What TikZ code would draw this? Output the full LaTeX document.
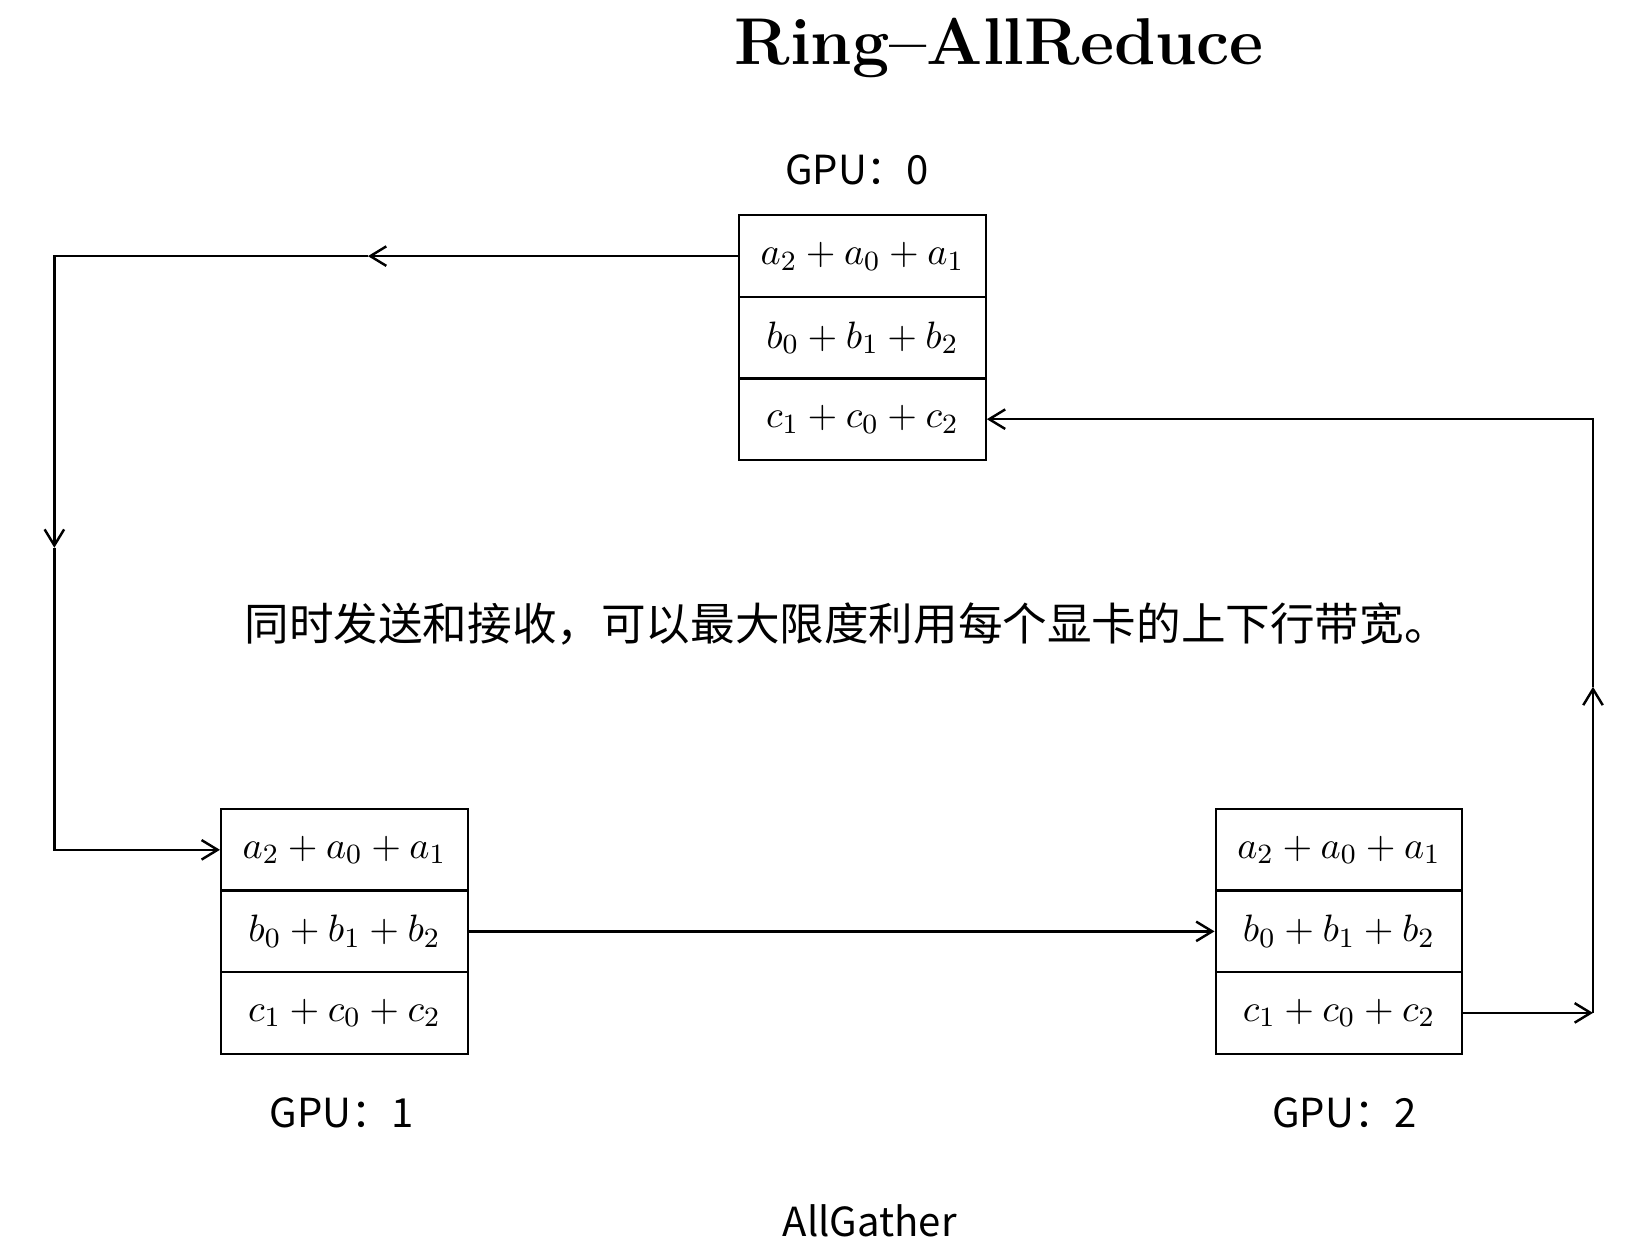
\documentclass[tikz,border=0pt]{standalone}
\usepackage{fontspec}
\newfontfamily\cjk{Noto Sans CJK SC}
\usetikzlibrary{arrows.meta}
\tikzset{
  cell/.style={draw, line width=0.65pt, minimum width=70.8pt, minimum height=23.4pt,
    inner sep=0pt, font=\fontsize{10.8}{12}\selectfont},
  conn/.style={line width=0.7pt},
  arr/.style={-{Straight Barb[length=4.6pt,width=5.6pt,line width=0.7pt]}},
  lbl/.style={font=\cjk\fontsize{11.5}{14}\selectfont, inner sep=0pt},
  note/.style={font=\cjk\fontsize{12.8}{16}\selectfont, inner sep=0pt},
  ttl/.style={font=\bfseries\fontsize{19}{22}\selectfont, inner sep=0pt}
}
\begin{document}
\begin{tikzpicture}[x=0.3pt,y=-0.3pt]
\useasboundingbox (0,0) rectangle (1568,1203);
\fill[white] (0,0) rectangle (1568,1203);

\node[ttl] (title) at (956,46) {Ring--AllReduce};

% GPU 0
\node[lbl] (g0) at (820,162) {GPU：0};
\node[cell] (r0a) at (825,245) {$a_2+a_0+a_1$};
\node[cell] (r0b) at (825,323) {$b_0+b_1+b_2$};
\node[cell] (r0c) at (825,401) {$c_1+c_0+c_2$};

% GPU 1
\node[cell] (r1a) at (329.5,813) {$a_2+a_0+a_1$};
\node[cell] (r1b) at (329.5,891) {$b_0+b_1+b_2$};
\node[cell] (r1c) at (329.5,969) {$c_1+c_0+c_2$};
\node[lbl] (g1) at (327,1065) {GPU：1};

% GPU 2
\node[cell] (r2a) at (1281,813) {$a_2+a_0+a_1$};
\node[cell] (r2b) at (1281,891) {$b_0+b_1+b_2$};
\node[cell] (r2c) at (1281,969) {$c_1+c_0+c_2$};
\node[lbl] (g2) at (1286,1065) {GPU：2};

\node[note] (msg) at (810,597) {同时发送和接收，可以最大限度利用每个显卡的上下行带宽。};
\node[lbl] (ag) at (832,1168) {AllGather};

% ring connectors
\coordinate (m1) at (352,245);
\coordinate (tl) at (52,245);
\coordinate (m2) at (52,524);
\coordinate (bl) at (52,813);
\coordinate (br) at (1524,969);
\coordinate (m3) at (1524,657);
\coordinate (tr) at (1524,401);

\draw[conn,arr] (r0a.west) -- (m1);
\draw[conn,arr] (m1) -- (tl) -- (m2);
\draw[conn,arr] (m2) -- (bl) -- (r1a.west);
\draw[conn,arr] (r1b.east) -- (r2b.west);
\draw[conn,arr] (r2c.east) -- (br);
\draw[conn,arr] (br) -- (m3);
\draw[conn,arr] (m3) -- (tr) -- (r0c.east);
\end{tikzpicture}
\end{document}
